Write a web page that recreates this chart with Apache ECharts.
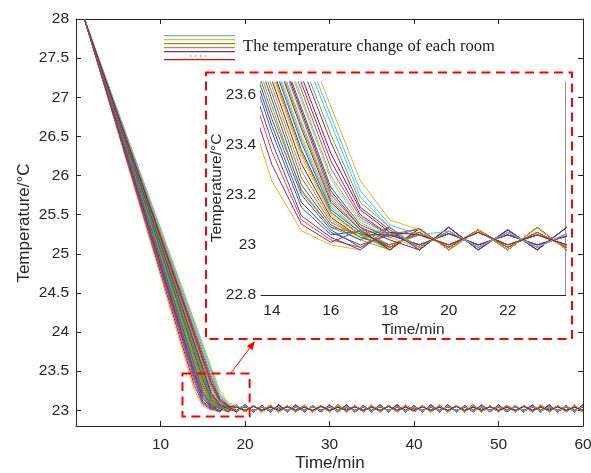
<!DOCTYPE html>
<html>
<head>
<meta charset="utf-8">
<script src="https://cdn.jsdelivr.net/npm/echarts@6/dist/echarts.min.js"></script>
<style>
  html, body { margin: 0; padding: 0; background: #fff; }
  #main { width: 591px; height: 473px; }
</style>
</head>
<body>
<div id="main"></div>
<script>
// ---- Room temperatures (°C) --------------------------------------------
// Every room starts at 28 °C at minute 1 and cools in a straight line
// until coolEnd, then settles over two minutes, then follows a ripple.
const startMinute = 1;
const startTemp = 28;
const lastMinute = 60;

// [minute, °C] where the steady cooling of each room ends
const coolEnd = [
  [14, 23.45], [15, 23.268], [14, 23.255], [14, 23.32], [15, 23.212],
  [15, 23.422], [15, 23.324], [14, 23.502], [14, 23.372], [15, 23.352],
  [14, 23.411], [15, 23.296], [15, 23.492], [15, 23.38], [15, 23.24],
  [14, 23.528], [15, 23.436], [14, 23.476], [15, 23.366], [16, 23.275],
  [15, 23.464], [15, 23.408], [15, 23.52], [16, 23.26], [16, 23.335],
  [15, 23.478], [16, 23.485], [16, 23.215], [16, 23.23], [16, 23.305],
  [17, 23.256], [16, 23.41], [16, 23.44], [17, 23.216], [16, 23.365]
];

// readings in the two minutes after coolEnd
const settle = [
  [23.15, 23.04], [23.09, 23.03], [23.056, 23.00], [23.083, 23.01], [23.07, 23.02],
  [23.15, 23.05], [23.11, 23.03], [23.20, 23.06], [23.10, 23.02], [23.12, 23.04],
  [23.116, 23.03], [23.10, 23.03], [23.19, 23.06], [23.13, 23.04], [23.08, 23.02],
  [23.22, 23.07], [23.16, 23.05], [23.17, 23.05], [23.13, 23.04], [23.10, 23.04],
  [23.17, 23.06], [23.14, 23.05], [23.20, 23.07], [23.09, 23.03], [23.12, 23.04],
  [23.18, 23.06], [23.19, 23.07], [23.07, 23.02], [23.08, 23.03], [23.11, 23.04],
  [23.10, 23.06], [23.15, 23.06], [23.17, 23.07], [23.08, 23.04], [23.14, 23.05]
];

// which thermostat ripple each room follows once settled
const rippleOf = [
  3, 3, 0, 1, 1, 2, 5, 2, 2, 0,
  0, 2, 4, 4, 0, 5, 1, 4, 1, 3,
  1, 3, 3, 2, 4, 5, 0, 0, 1, 1,
  1, 0, 2, 2, 5
];

// thermostat ripples, °C at minutes 17, 18, ..., 60
const rippleFrom = 17;
const ripples = [
  [22.98,23.07, 22.98,23.07, 22.98,23.06, 22.98,23.07, 22.98,23.07, 22.98,23.06,
   22.98,23.07, 22.98,23.07, 22.98,23.06, 22.98,23.07, 22.98,23.07, 22.98,23.06,
   22.98,23.07, 22.98,23.07, 22.98,23.06, 22.98,23.07, 22.98,23.07, 22.98,23.06,
   22.98,23.07, 22.98,23.07, 22.98,23.06, 22.98,23.07],
  [23.06,22.98, 23.065,22.98, 23.06,22.98, 23.07,22.98, 23.06,22.98, 23.065,22.98,
   23.06,22.98, 23.07,22.98, 23.06,22.98, 23.065,22.98, 23.06,22.98, 23.07,22.98,
   23.06,22.98, 23.065,22.98, 23.06,22.98, 23.07,22.98, 23.06,22.98, 23.065,22.98,
   23.06,22.98, 23.07,22.98, 23.06,22.98, 23.065,22.98],
  [22.99,23.05, 22.99,23.055, 22.99,23.05, 22.99,23.045, 22.99,23.05, 22.99,23.055,
   22.99,23.05, 22.99,23.045, 22.99,23.05, 22.99,23.055, 22.99,23.05, 22.99,23.045,
   22.99,23.05, 22.99,23.055, 22.99,23.05, 22.99,23.045, 22.99,23.05, 22.99,23.055,
   22.99,23.05, 22.99,23.045, 22.99,23.05, 22.99,23.055],
  [23.055,22.99, 23.05,22.99, 23.06,22.99, 23.05,22.99, 23.055,22.99, 23.05,22.99,
   23.06,22.99, 23.05,22.99, 23.055,22.99, 23.05,22.99, 23.06,22.99, 23.05,22.99,
   23.055,22.99, 23.05,22.99, 23.06,22.99, 23.05,22.99, 23.055,22.99, 23.05,22.99,
   23.06,22.99, 23.05,22.99, 23.055,22.99, 23.05,22.99],
  [23.00,23.04, 23.00,23.045, 23.00,23.04, 23.00,23.035, 23.00,23.04, 23.00,23.045,
   23.00,23.04, 23.00,23.035, 23.00,23.04, 23.00,23.045, 23.00,23.04, 23.00,23.035,
   23.00,23.04, 23.00,23.045, 23.00,23.04, 23.00,23.035, 23.00,23.04, 23.00,23.045,
   23.00,23.04, 23.00,23.035, 23.00,23.04, 23.00,23.045],
  [23.045,23.00, 23.04,23.00, 23.05,23.00, 23.04,23.00, 23.045,23.00, 23.04,23.00,
   23.05,23.00, 23.04,23.00, 23.045,23.00, 23.04,23.00, 23.05,23.00, 23.04,23.00,
   23.045,23.00, 23.04,23.00, 23.05,23.00, 23.04,23.00, 23.045,23.00, 23.04,23.00,
   23.05,23.00, 23.04,23.00, 23.045,23.00, 23.04,23.00]
];

// axis ticks
const mainXTicks = [10, 20, 30, 40, 50, 60];
const mainYTicks = [23, 23.5, 24, 24.5, 25, 25.5, 26, 26.5, 27, 27.5, 28];
const insetXTicks = [14, 16, 18, 20, 22];
const insetYTicks = [22.8, 23, 23.2, 23.4, 23.6];

// region of the main plot that the inset enlarges: [minute, °C] corners
const zoomBox = [[12.6, 23.47], [20.55, 22.92]];

// ---- Drawing ------------------------------------------------------------
const palette = ['#0072BD', '#D95319', '#EDB120', '#7E2F8E', '#77AC30', '#4DBEEE', '#A2142F'];
const ink = '#262626';
const sans = 'Liberation Sans, Arial, sans-serif';

function roomSeries(i) {
  const [k, tk] = coolEnd[i];
  const pts = [[startMinute, startTemp], [k, tk], [k + 1, settle[i][0]], [k + 2, settle[i][1]]];
  const rip = ripples[rippleOf[i]];
  for (let m = k + 3; m <= lastMinute; m++) pts.push([m, rip[m - rippleFrom]]);
  return pts;
}

function axisOf(grid, pos, min, max, ticks, withLabels, margin) {
  return {
    type: 'value', gridIndex: grid, position: pos, min: min, max: max,
    axisLine: { onZero: false, lineStyle: { color: ink, width: 1 } },
    axisTick: { inside: true, length: 5, customValues: ticks, lineStyle: { color: ink, width: 1 } },
    axisLabel: withLabels
      ? { customValues: ticks, color: ink, fontSize: 15.5, fontFamily: sans, margin: margin }
      : { show: false },
    splitLine: { show: false }
  };
}

const series = [];
for (let i = 0; i < coolEnd.length; i++) {
  const data = roomSeries(i);
  const style = { color: palette[i % palette.length], width: 1 };
  series.push({ type: 'line', xAxisIndex: 0, yAxisIndex: 0, data: data, showSymbol: false,
    lineStyle: style, itemStyle: { color: style.color }, silent: true, z: 2 });
  series.push({ type: 'line', xAxisIndex: 2, yAxisIndex: 2, data: data, showSymbol: false,
    lineStyle: style, itemStyle: { color: style.color }, silent: true, clip: true, z: 5 });
}

const chart = echarts.init(document.getElementById('main'), null, { renderer: 'canvas' });
chart.setOption({
  animation: false,
  backgroundColor: '#fff',
  grid: [
    { left: 76, top: 19, width: 507, height: 407, containLabel: false, outerBoundsMode: 'none' },
    { left: 261, top: 82, width: 304.5, height: 213, containLabel: false, outerBoundsMode: 'none',
      show: true, backgroundColor: '#fff', borderWidth: 0, z: 4 }
  ],
  xAxis: [
    axisOf(0, 'bottom', 0, 60, mainXTicks, true, 11),
    axisOf(0, 'top', 0, 60, mainXTicks, false),
    axisOf(1, 'bottom', 13.63, 23.96, insetXTicks, true, 8),
    axisOf(1, 'top', 13.63, 23.96, insetXTicks, false)
  ],
  yAxis: [
    axisOf(0, 'left', 22.8, 28, mainYTicks, true, 7),
    axisOf(0, 'right', 22.8, 28, mainYTicks, false),
    axisOf(1, 'left', 22.8, 23.65, insetYTicks, true, 5),
    axisOf(1, 'right', 22.8, 23.65, insetYTicks, false)
  ],
  series: series
});

// axis titles, legend, inset frame, zoom box and arrow
const g = [];
function title(text, x, y, size, vertical) {
  g.push({ type: 'text', x: x, y: y, rotation: vertical ? Math.PI / 2 : 0, z: 10,
    style: { text: text, fill: ink, font: size + 'px ' + sans, align: 'center', verticalAlign: 'middle' } });
}
title('Time/min', 330, 463, 17, false);
title('Temperature/°C', 24, 223, 17, true);
title('Time/min', 413, 330, 15.5, false);
title('Temperature/°C', 217, 188, 15.5, true);

const legendColors = ['#7EA6DB', '#EFB52F', '#6E9B3C', '#E37C3A', '#6B3494'];
legendColors.forEach(function (c, j) {
  g.push({ type: 'rect', shape: { x: 164, y: 35 + 4 * j, width: 71, height: 1.2 },
    style: { fill: c }, z: 10 });
});
[190.5, 195.5, 200.5, 205.5].forEach(function (x) {
  g.push({ type: 'circle', shape: { cx: x, cy: 56, r: 0.8 }, style: { fill: '#8a8a8a' }, z: 10 });
});
g.push({ type: 'rect', shape: { x: 164, y: 59, width: 71, height: 1.2 },
  style: { fill: '#FF0000' }, z: 10 });
g.push({ type: 'text', x: 243, y: 47, z: 10,
  style: { text: 'The temperature change of each room', fill: '#1a1a1a',
    font: '16.6px "Liberation Serif", serif', verticalAlign: 'middle', align: 'left' } });

const dash = { stroke: '#FF0000', lineWidth: 2, lineDash: [9, 5.5], fill: null };
g.push({ type: 'rect', shape: { x: 206, y: 72.5, width: 366, height: 266.5 }, style: dash, z: 10 });

const a = chart.convertToPixel({ gridIndex: 0 }, zoomBox[0]);
const b = chart.convertToPixel({ gridIndex: 0 }, zoomBox[1]);
g.push({ type: 'rect', shape: { x: a[0], y: a[1], width: b[0] - a[0], height: b[1] - a[1] }, style: dash, z: 10 });

const from = [a[0] + 48, a[1]];
const tip = [255, 341];
const dx = tip[0] - from[0], dy = tip[1] - from[1];
const len = Math.sqrt(dx * dx + dy * dy);
const ux = dx / len, uy = dy / len;
const headLen = 9, headHalf = 3.5;
const bx = tip[0] - ux * headLen, by = tip[1] - uy * headLen;
g.push({ type: 'line', shape: { x1: from[0], y1: from[1], x2: bx, y2: by },
  style: { stroke: '#FF0000', lineWidth: 1 }, z: 10 });
g.push({ type: 'polygon', shape: { points: [tip, [bx - uy * headHalf, by + ux * headHalf], [bx + uy * headHalf, by - ux * headHalf]] },
  style: { fill: '#FF0000' }, z: 10 });

chart.setOption({ graphic: { elements: g } });
</script>
</body>
</html>
